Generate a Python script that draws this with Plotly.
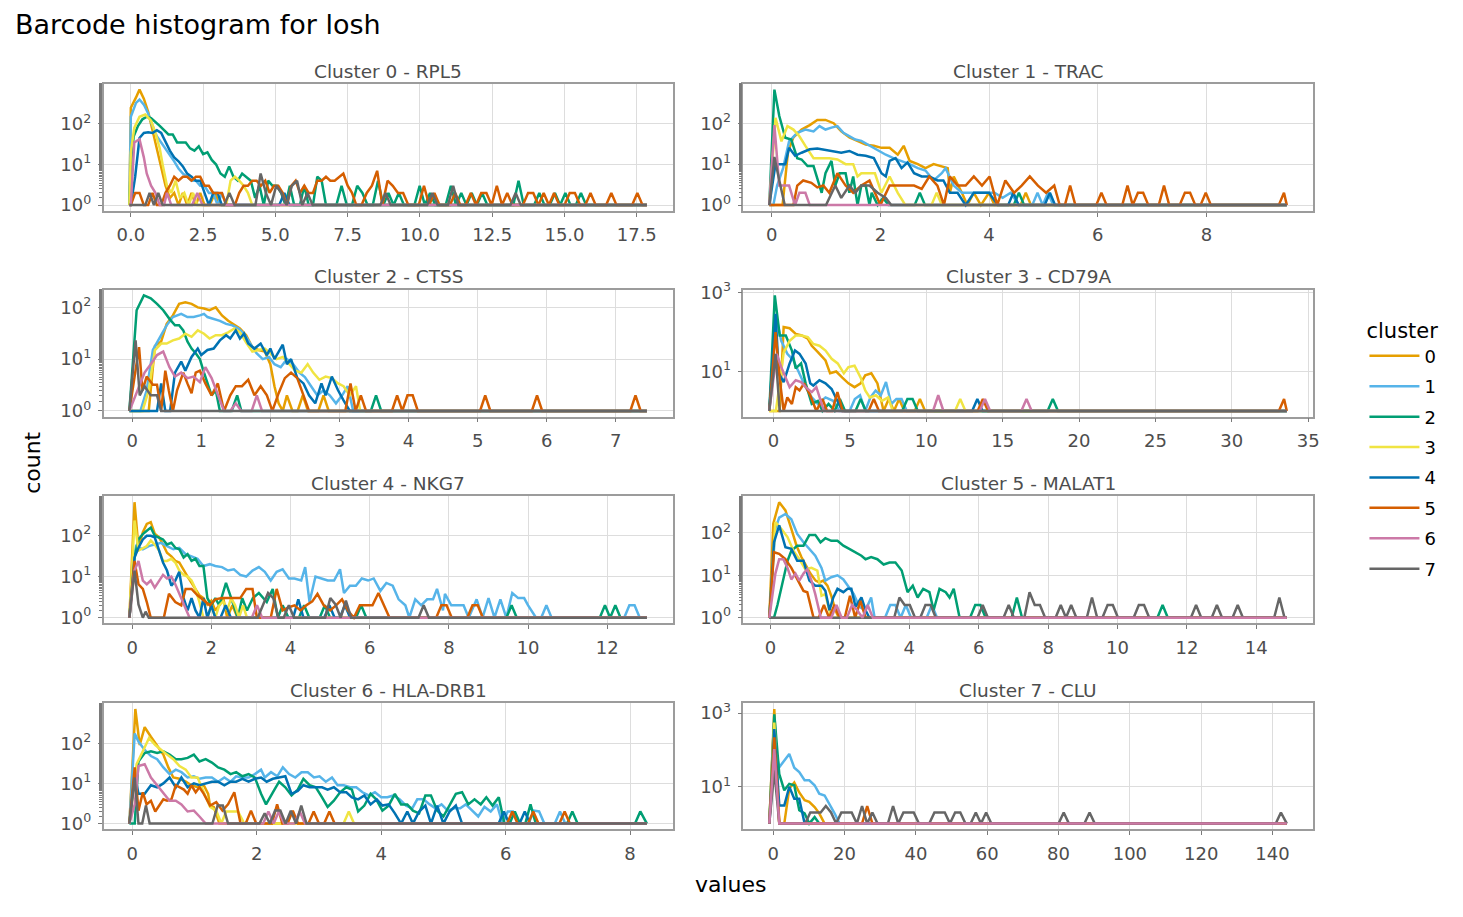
import numpy as np
import plotly.graph_objects as go

# ---------------- data ----------------
CLUSTERS = ["0", "1", "2", "3", "4", "5", "6", "7"]
CLUSTER_COLORS = ["#E69F00", "#56B4E9", "#009E73", "#F0E442",
                  "#0072B2", "#D55E00", "#CC79A7", "#666666"]

PANEL_TITLES = ["Cluster 0 - RPL5", "Cluster 1 - TRAC", "Cluster 2 - CTSS",
                "Cluster 3 - CD79A", "Cluster 4 - NKG7", "Cluster 5 - MALAT1",
                "Cluster 6 - HLA-DRB1", "Cluster 7 - CLU"]
X_LO = [-0.05, -0.044, -0.04, -0.28, -0.07, -0.035, -0.046, -1.1]
X_HI = [17.85, 9.48, 7.45, 33.6, 13.0, 14.88, 8.27, 144.0]
BIN_W = [0.18, 0.096, 0.075, 0.34, 0.131, 0.15, 0.084, 1.45]
X_TICKS = [[0, 2.5, 5, 7.5, 10, 12.5, 15, 17.5], [0, 2, 4, 6, 8],
           [0, 1, 2, 3, 4, 5, 6, 7], [0, 5, 10, 15, 20, 25, 30, 35],
           [0, 2, 4, 6, 8, 10, 12], [0, 2, 4, 6, 8, 10, 12, 14],
           [0, 2, 4, 6, 8], [0, 20, 40, 60, 80, 100, 120, 140]]
X_TICK_FMT = [".1f", "d", "d", "d", "d", "d", "d", "d"]
Y_TICKS = [[1, 10, 100], [1, 10, 100], [1, 10, 100], [10, 1000],
           [1, 10, 100], [1, 10, 100], [1, 10, 100], [10, 1000]]

# counts per cluster: body vertices (value, count) and isolated bins in the tail
rpl5_body = {
    0: [(0.0, 250), (0.18, 450), (0.3, 700), (0.45, 420), (0.6, 200), (0.75, 70), (0.9, 25), (1.05, 8), (1.2, 3),
        (1.35, 1.5), (1.5, 2), (1.65, 1), (1.8, 2), (1.95, 1), (2.1, 2), (2.25, 1), (2.4, 2), (2.55, 1)],
    1: [(0.0, 150), (0.18, 330), (0.3, 400), (0.45, 300), (0.6, 180), (0.75, 90), (0.9, 50), (1.05, 35), (1.2, 25),
        (1.35, 17), (1.5, 12), (1.65, 8), (1.8, 6), (1.95, 5), (2.1, 4), (2.25, 4), (2.4, 3), (2.55, 3), (2.7, 2),
        (2.85, 2), (3.0, 1), (3.15, 2), (3.3, 1)],
    2: [(0.0, 10), (0.1, 50), (0.25, 90), (0.4, 130), (0.55, 150), (0.7, 140), (0.85, 115), (1.0, 90), (1.15, 70),
        (1.3, 55), (1.45, 55), (1.6, 35), (1.75, 35), (1.9, 35), (2.05, 25), (2.2, 22), (2.35, 28), (2.5, 18),
        (2.65, 20), (2.8, 13), (2.95, 10), (3.1, 6), (3.25, 5), (3.4, 9), (3.55, 5), (3.7, 4), (3.85, 6), (4.0, 5),
        (4.15, 4), (4.3, 1.5), (4.45, 3), (4.6, 1), (4.75, 4), (4.9, 3), (5.05, 3), (5.2, 2), (5.35, 1), (5.5, 3),
        (5.65, 1), (5.85, 1), (6.0, 3), (6.15, 1), (6.3, 1), (6.45, 5), (6.6, 4), (6.75, 1)],
    3: [(0.0, 20), (0.12, 80), (0.3, 150), (0.5, 170), (0.7, 120), (0.85, 60), (1.0, 25), (1.1, 10), (1.25, 3),
        (1.4, 2), (1.55, 4), (1.7, 1.5), (1.85, 2), (2.0, 1), (2.15, 2), (2.3, 1), (3.3, 1), (3.45, 4), (3.6, 5),
        (3.75, 4), (3.9, 3), (4.05, 2), (4.2, 1)],
    4: [(0.0, 1), (0.15, 5), (0.3, 45), (0.45, 60), (0.6, 62), (0.75, 60), (0.9, 70), (1.05, 60), (1.2, 35),
        (1.35, 22), (1.5, 15), (1.65, 12), (1.8, 9), (1.95, 6), (2.1, 5), (2.25, 4), (2.4, 4), (2.55, 2), (2.7, 1),
        (2.85, 2), (3.0, 2), (3.15, 1)],
    5: [(0.0, 1), (0.15, 2), (0.3, 2), (0.45, 1), (0.6, 1), (0.75, 2), (0.9, 1), (1.05, 1), (1.2, 2), (1.35, 3),
        (1.5, 5), (1.65, 4), (1.8, 5), (1.95, 5), (2.1, 4), (2.25, 5), (2.4, 5), (2.55, 3), (2.7, 3), (2.85, 2),
        (3.0, 2), (3.15, 2), (3.3, 1), (3.6, 1), (3.75, 2), (3.9, 3), (4.05, 3), (4.2, 4), (4.35, 4), (4.5, 3),
        (4.65, 4), (4.8, 2), (4.95, 3), (5.1, 3), (5.25, 2), (5.4, 1), (5.55, 3), (5.7, 4), (5.85, 2), (6.0, 3),
        (6.15, 2), (6.3, 2), (6.45, 4), (6.6, 4), (6.75, 5), (6.9, 4), (7.05, 4), (7.2, 5), (7.35, 6), (7.5, 3),
        (7.65, 2), (7.8, 1)],
    6: [(0.0, 1), (0.12, 35), (0.3, 42), (0.45, 15), (0.55, 6), (0.7, 3), (0.85, 2), (1.0, 1), (1.15, 1), (1.25, 2),
        (1.4, 1)],
    7: [(0.0, 1), (0.5, 1), (0.65, 2), (0.8, 1), (0.95, 2), (1.1, 1), (1.25, 1)],
}
rpl5_spikes = {
    0: [(2.9, 2)], 1: [],
    2: [(7.2, 3), (7.9, 3), (8.1, 2), (8.5, 4), (8.9, 2), (9.3, 2), (10.0, 3), (10.3, 2), (11.1, 3), (11.5, 2),
        (11.8, 2), (12.1, 2), (13.4, 4), (14.2, 2), (14.6, 2), (15.0, 2), (15.5, 2)],
    3: [], 4: [(5.3, 2)],
    5: [(8.2, 2), (8.4, 3), (8.6, 7), (8.8, 4), (9.0, 3), (9.2, 2), (9.4, 2), (10.2, 3), (10.5, 2), (11.3, 2),
        (11.7, 2), (12.1, 2), (12.3, 2), (12.7, 3), (13.1, 2), (13.7, 2), (14.0, 2), (14.3, 2), (14.7, 2), (15.2, 2),
        (15.4, 2), (15.9, 2), (16.6, 2), (17.6, 2)],
    6: [(2.35, 2)],
    7: [(3.35, 2), (4.4, 2), (4.55, 6), (4.75, 2), (4.95, 3), (5.15, 2), (5.5, 3), (5.7, 4), (6.1, 2), (8.8, 2),
        (10.4, 2), (11.1, 3), (13.4, 2)],
}

trac_body = {
    0: [(0.2, 1), (0.3, 20), (0.4, 45), (0.55, 70), (0.7, 90), (0.84, 120), (0.99, 120), (1.14, 100), (1.28, 63),
        (1.43, 45), (1.58, 37), (1.73, 30), (1.88, 28), (2.02, 25), (2.17, 25), (2.32, 17), (2.43, 28), (2.54, 12),
        (2.69, 10), (2.83, 8), (2.98, 10), (3.13, 9), (3.24, 8), (3.28, 2), (3.35, 5), (3.5, 2), (3.6, 1), (3.72, 2),
        (3.85, 1), (4.0, 2), (4.1, 1)],
    1: [(0.03, 1), (0.1, 3), (0.21, 8), (0.32, 36), (0.47, 58), (0.62, 70), (0.77, 63), (0.88, 85), (0.99, 70),
        (1.1, 78), (1.21, 85), (1.32, 58), (1.43, 48), (1.54, 40), (1.65, 37), (1.77, 30), (1.88, 25), (1.99, 21),
        (2.1, 17), (2.24, 14), (2.39, 12), (2.54, 10), (2.69, 8), (2.83, 7), (2.98, 4), (3.13, 6), (3.2, 8),
        (3.35, 3), (3.5, 2), (3.65, 2), (3.8, 2), (3.95, 2), (4.1, 2), (4.25, 1.5), (4.4, 2), (4.55, 1), (4.7, 1)],
    2: [(0.05, 660), (0.14, 150), (0.25, 44), (0.36, 40), (0.47, 14), (0.55, 13), (0.66, 9), (0.77, 9), (0.92, 2),
        (0.99, 6), (1.1, 12), (1.17, 3), (1.25, 6), (1.36, 6), (1.43, 2), (1.5, 5), (1.58, 1), (1.65, 3), (1.73, 3),
        (1.8, 1), (1.84, 2), (1.95, 1), (2.05, 1.5), (2.15, 1)],
    3: [(0.07, 135), (0.18, 36), (0.29, 85), (0.4, 70), (0.51, 48), (0.62, 28), (0.77, 14), (0.92, 14), (1.06, 14),
        (1.21, 13), (1.36, 10), (1.5, 10), (1.58, 5), (1.65, 6), (1.8, 6), (1.9, 6), (2.02, 2), (2.17, 5), (2.32, 2),
        (2.46, 1)],
    4: [(0.07, 10), (0.14, 10), (0.25, 10), (0.32, 25), (0.43, 16), (0.55, 19), (0.7, 23), (0.84, 24), (0.99, 22),
        (1.14, 21), (1.28, 19), (1.43, 21), (1.58, 17), (1.73, 16), (1.88, 14), (2.02, 6), (2.1, 5), (2.17, 12),
        (2.28, 14), (2.39, 8), (2.5, 11), (2.62, 6), (2.76, 5), (2.9, 5), (3.05, 4), (3.16, 4), (3.28, 2), (3.42, 2),
        (3.57, 1), (3.72, 2), (3.87, 2), (4.0, 2), (4.16, 1)],
    5: [(0.4, 1), (0.47, 3), (0.58, 4), (0.73, 3.5), (0.84, 2.7), (0.95, 3), (1.06, 2), (1.21, 6), (1.36, 3),
        (1.5, 2), (1.65, 3), (1.8, 4), (2.0, 1), (2.17, 3), (2.32, 3), (2.46, 3), (2.62, 3), (2.76, 2.5), (2.9, 5),
        (3.05, 3), (3.17, 1), (3.28, 5), (3.42, 3), (3.57, 3), (3.72, 5), (3.87, 3), (4.01, 5), (4.15, 1), (4.3, 4),
        (4.46, 2), (4.6, 3), (4.75, 5), (4.9, 3), (5.05, 2), (5.2, 3), (5.3, 1)],
    6: [(0.05, 90), (0.14, 3), (0.32, 3), (0.43, 1), (0.51, 2), (0.62, 2), (0.7, 1)],
    7: [(0.05, 15), (0.14, 4), (0.24, 1), (1.0, 1), (1.17, 3), (1.28, 1.5), (1.43, 3), (1.54, 2), (1.65, 3),
        (1.8, 3), (1.95, 2), (2.1, 1.5), (2.2, 1)],
}
trac_spikes = {
    0: [(4.68, 2)], 1: [(4.9, 2), (5.1, 2)], 2: [(2.76, 2), (4.55, 2)], 3: [(3.05, 2)],
    4: [(4.46, 2), (5.1, 2)],
    5: [(5.5, 3), (6.1, 2), (6.55, 3), (6.7, 2), (6.8, 2), (7.2, 3), (7.6, 2), (7.7, 2), (8.0, 2), (9.4, 2)],
    6: [], 7: [],
}

ctss_body = {
    0: [(0.24, 1), (0.33, 18), (0.42, 22), (0.5, 48), (0.59, 70), (0.68, 117), (0.77, 125), (0.86, 117),
        (0.95, 100), (1.04, 95), (1.12, 88), (1.21, 100), (1.3, 70), (1.39, 55), (1.48, 45), (1.56, 39), (1.65, 29),
        (1.74, 17), (1.83, 15), (1.92, 14), (2.0, 8), (2.06, 3), (2.12, 1.4), (2.18, 1), (2.24, 2), (2.32, 1)],
    1: [(0.12, 1), (0.21, 2.5), (0.3, 15), (0.42, 29), (0.5, 45), (0.59, 65), (0.71, 75), (0.8, 65), (0.89, 65),
        (0.98, 70), (1.04, 75), (1.09, 65), (1.18, 60), (1.27, 55), (1.36, 48), (1.45, 45), (1.54, 39), (1.62, 31),
        (1.71, 20), (1.8, 13), (1.89, 10), (1.98, 11), (2.06, 8), (2.15, 7), (2.24, 10), (2.33, 8), (2.42, 5.5),
        (2.5, 4.5), (2.59, 3), (2.68, 2), (2.77, 2.5), (2.86, 2), (2.95, 1.4), (3.04, 2), (3.12, 3), (3.2, 1)],
    2: [(0.065, 88), (0.17, 170), (0.27, 150), (0.36, 117), (0.45, 88), (0.54, 60), (0.62, 45), (0.68, 45),
        (0.74, 36), (0.8, 22), (0.86, 16), (0.92, 13), (0.98, 10), (1.04, 5.5), (1.09, 3.4), (1.15, 2), (1.21, 2.5),
        (1.27, 1), (1.44, 1), (1.52, 2), (1.58, 1)],
    3: [(0.15, 1), (0.24, 2.5), (0.33, 15), (0.42, 20), (0.5, 20), (0.59, 23), (0.68, 25), (0.77, 31), (0.86, 27),
        (0.95, 36), (1.04, 31), (1.12, 25), (1.21, 29), (1.3, 29), (1.39, 33), (1.48, 39), (1.56, 33), (1.65, 21),
        (1.74, 14), (1.83, 15), (1.92, 16), (2.0, 13), (2.09, 10), (2.18, 11), (2.27, 8), (2.36, 6), (2.45, 5.5),
        (2.54, 8), (2.62, 5.5), (2.71, 4), (2.8, 4.6), (2.89, 4.3), (2.98, 3.4), (3.06, 3), (3.15, 2), (3.24, 3),
        (3.3, 1)],
    4: [(0.36, 1), (0.42, 3.4), (0.48, 1), (0.55, 1), (0.62, 5.5), (0.71, 9), (0.77, 6), (0.86, 11), (0.95, 16),
        (1.0, 12), (1.09, 15), (1.18, 16), (1.27, 23), (1.36, 29), (1.42, 25), (1.5, 36), (1.56, 25), (1.62, 31),
        (1.68, 20), (1.77, 16), (1.86, 20), (1.95, 12), (2.0, 16), (2.06, 10), (2.12, 14), (2.18, 19), (2.24, 8),
        (2.3, 10), (2.39, 4.3), (2.48, 3.4), (2.56, 2), (2.65, 1.4), (2.74, 3.4), (2.8, 2), (2.89, 4.6), (2.98, 2.5),
        (3.06, 1.6), (3.15, 1)],
    5: [(0.1, 17), (0.15, 2.5), (0.21, 4.6), (0.3, 3.2), (0.36, 3.2), (0.42, 1), (0.48, 6), (0.53, 2.5), (0.59, 1),
        (0.65, 2.5), (0.74, 5.5), (0.8, 3.4), (0.86, 2.2), (0.92, 5.5), (0.98, 6), (1.06, 3.4), (1.15, 2),
        (1.24, 3.4), (1.33, 1), (1.42, 2), (1.5, 3), (1.59, 3), (1.68, 4), (1.77, 2), (1.86, 3), (1.95, 2),
        (2.03, 1), (2.12, 2.2), (2.21, 4.3), (2.3, 5.5), (2.39, 4.3), (2.48, 2), (2.56, 1)],
    6: [(0.1, 3), (0.18, 5.5), (0.27, 8), (0.36, 12), (0.45, 14), (0.54, 7), (0.62, 4.6), (0.71, 5.5), (0.8, 4.3),
        (0.89, 4.6), (0.98, 3.6), (1.06, 7), (1.15, 4.3), (1.24, 2), (1.33, 1), (1.42, 1), (1.5, 1.4), (1.58, 1)],
    7: [(0.05, 23), (0.11, 2), (0.18, 3), (0.27, 2), (0.36, 2), (0.42, 1)],
}
ctss_spikes = {
    0: [(2.48, 2), (2.77, 2)], 1: [], 2: [(3.5, 2)], 3: [], 4: [],
    5: [(3.15, 3.4), (3.28, 2), (3.8, 2), (4.0, 2), (4.08, 2), (5.12, 2), (5.85, 2), (7.3, 2)],
    6: [(1.8, 2)], 7: [],
}

cd79a_body = {
    0: [(0.4, 1), (0.66, 135), (1.05, 125), (1.45, 90), (1.84, 82), (2.24, 68), (2.5, 45), (2.9, 31), (3.4, 19),
        (3.7, 9), (4.1, 10), (4.5, 7), (4.9, 5), (5.3, 4), (5.7, 5), (6.0, 8), (6.4, 9), (6.8, 5), (7.0, 2),
        (7.2, 1)],
    1: [(0.18, 240), (0.5, 60), (0.9, 28), (1.3, 19), (1.7, 9), (2.1, 4), (2.5, 2.2), (2.9, 1.5), (3.4, 2.2),
        (3.9, 1.8), (4.3, 1)],
    2: [(0.08, 850), (0.4, 82), (0.8, 82), (1.2, 34), (1.45, 12), (1.8, 16), (2.1, 5), (2.5, 1.5), (2.9, 1.8),
        (3.2, 1), (3.6, 1.5), (4.0, 1)],
    3: [(0.15, 1), (0.4, 5), (0.66, 30), (1.05, 60), (1.45, 82), (1.84, 82), (2.24, 75), (2.6, 50), (3.0, 45),
        (3.4, 34), (3.8, 21), (4.2, 16), (4.6, 9), (4.9, 13), (5.3, 14), (5.7, 7), (6.0, 3.3), (6.3, 2.2),
        (6.7, 2.5), (7.1, 1.8), (7.5, 2.2), (7.8, 1)],
    4: [(0.13, 290), (0.34, 9), (0.66, 5.4), (1.05, 16), (1.4, 34), (1.7, 28), (2.1, 16), (2.4, 5), (2.6, 4.4),
        (3.0, 6), (3.4, 5), (3.8, 3.6), (4.2, 1.8), (4.5, 1)],
    5: [(0.13, 100), (0.4, 6.5), (0.66, 1), (0.9, 2.2), (1.2, 1.5), (1.45, 4), (1.7, 3.3), (2.0, 5), (2.4, 2.5),
        (2.8, 1), (3.2, 2), (3.5, 1)],
    6: [(0.2, 28), (0.5, 13), (0.8, 7), (1.05, 4), (1.45, 6), (1.8, 5.4), (2.1, 4), (2.5, 3), (2.8, 4), (3.0, 2.2),
        (3.3, 1)],
    7: [(0.13, 28), (0.4, 1)],
}
cd79a_spikes = {
    0: [(7.6, 2), (8.1, 2), (9.5, 2)],
    1: [(5.4, 2), (5.7, 2.5), (6.2, 2.2), (6.6, 3.3), (7.0, 2.5), (7.4, 5.4), (7.7, 1.5), (8.0, 2), (8.4, 2)],
    2: [(4.3, 2), (5.8, 2), (8.8, 2), (9.2, 2), (18.2, 2)],
    3: [(12.2, 2)], 4: [(13.2, 2)], 5: [(4.1, 3), (6.6, 2), (13.6, 2), (33.3, 2)],
    6: [(10.9, 2.5), (13.9, 2), (16.5, 2)], 7: [],
}

nkg7_body = {
    0: [(0.06, 640), (0.16, 50), (0.27, 120), (0.37, 190), (0.47, 210), (0.57, 110), (0.68, 90), (0.78, 60),
        (0.88, 38), (0.99, 31), (1.09, 24), (1.19, 22), (1.3, 14), (1.4, 10), (1.5, 7), (1.6, 5), (1.7, 3.5),
        (1.8, 3), (1.9, 2.1), (2.0, 2.6), (2.1, 1.5), (2.2, 2), (2.3, 3), (2.4, 1)],
    1: [(0.03, 24), (0.1, 55), (0.27, 46), (0.42, 55), (0.57, 60), (0.73, 66), (0.88, 55), (1.04, 46), (1.19, 50),
        (1.35, 35), (1.5, 31), (1.65, 27), (1.8, 18), (1.96, 20), (2.1, 18), (2.27, 17), (2.42, 14), (2.57, 15),
        (2.73, 11), (2.88, 10), (3.04, 14), (3.2, 17), (3.35, 13), (3.5, 8), (3.65, 13), (3.8, 15), (3.96, 9),
        (4.1, 9), (4.27, 8), (4.37, 17), (4.48, 2.4), (4.63, 10), (4.78, 9), (4.94, 8), (5.1, 8), (5.25, 15),
        (5.35, 4), (5.5, 6), (5.65, 6), (5.8, 9), (5.96, 8), (6.1, 9), (6.27, 4.5), (6.42, 7), (6.58, 6),
        (6.73, 2.8), (6.9, 2), (7.0, 1), (7.15, 2.8), (7.3, 2), (7.45, 2.8), (7.6, 2.8), (7.7, 5), (7.85, 1.5),
        (7.9, 3.8), (8.06, 2), (8.2, 2), (8.37, 2), (8.5, 1), (8.7, 2.8), (8.85, 1), (9.0, 3), (9.15, 1),
        (9.3, 2.8), (9.45, 1), (9.6, 4), (9.75, 3), (9.9, 3), (10.0, 2), (10.2, 1)],
    2: [(0.06, 29), (0.16, 80), (0.27, 108), (0.37, 130), (0.47, 155), (0.57, 98), (0.68, 90), (0.78, 80),
        (0.88, 60), (0.99, 66), (1.09, 50), (1.19, 46), (1.3, 29), (1.4, 35), (1.5, 24), (1.6, 27), (1.7, 18),
        (1.8, 18), (1.9, 3), (2.0, 2), (2.1, 3), (2.2, 2), (2.37, 7), (2.47, 3.8), (2.57, 2), (2.67, 1), (2.78, 3),
        (2.9, 1.5), (3.05, 3), (3.2, 4), (3.4, 2.4), (3.55, 5), (3.68, 1), (3.8, 2), (3.95, 1)],
    3: [(0.06, 230), (0.16, 43), (0.27, 50), (0.37, 55), (0.47, 75), (0.57, 60), (0.68, 43), (0.78, 24),
        (0.88, 24), (0.99, 27), (1.09, 22), (1.19, 14), (1.3, 11), (1.4, 10), (1.5, 8), (1.6, 5), (1.7, 2.4),
        (1.8, 1), (1.9, 1), (2.0, 2), (2.1, 1), (2.2, 2), (2.3, 2.5), (2.4, 1.5), (2.5, 3), (2.6, 2), (2.7, 1),
        (2.8, 2), (2.9, 1), (3.0, 1)],
    4: [(0.06, 29), (0.16, 50), (0.27, 80), (0.37, 98), (0.47, 98), (0.57, 90), (0.68, 43), (0.78, 22),
        (0.88, 14), (0.99, 6), (1.09, 8), (1.19, 13), (1.3, 3), (1.4, 1.5), (1.5, 3), (1.6, 1.5), (1.7, 1),
        (1.8, 3), (1.9, 1), (2.0, 2), (2.1, 1)],
    5: [(0.06, 24), (0.16, 6.5), (0.27, 5), (0.37, 2.4), (0.47, 1), (0.8, 1), (0.93, 3.8), (1.09, 2.4), (1.24, 2),
        (1.35, 5), (1.5, 5), (1.65, 3.5), (1.8, 2.6), (1.96, 2), (2.1, 2.8), (2.27, 3), (2.42, 3), (2.57, 3),
        (2.73, 3), (2.88, 5), (3.04, 5), (3.15, 1), (3.5, 1), (3.65, 5), (3.8, 1.5), (3.96, 1.8), (4.1, 2),
        (4.25, 1.5), (4.4, 2), (4.55, 2.5), (4.68, 3.8), (4.84, 2), (5.0, 1.5), (5.15, 2), (5.3, 2.8), (5.45, 1.5),
        (5.6, 1), (5.75, 2), (5.9, 2), (6.07, 2), (6.22, 4), (6.37, 2), (6.5, 1)],
    6: [(0.06, 14), (0.16, 24), (0.27, 8), (0.37, 6.5), (0.47, 8), (0.57, 5.4), (0.68, 8), (0.78, 11), (0.88, 9),
        (0.99, 10), (1.09, 6.5), (1.19, 3.8), (1.3, 2.1), (1.45, 1)],
    7: [(0.06, 14), (0.16, 2.1), (0.27, 1), (0.34, 1.4), (0.42, 1)],
}
nkg7_spikes = {
    0: [(2.55, 2)], 1: [(10.5, 2), (12.6, 2), (12.75, 2)],
    2: [(4.3, 2), (4.9, 2), (5.8, 2), (9.6, 2), (11.9, 2), (12.2, 2)], 3: [],
    4: [(2.37, 2), (4.2, 2.8), (5.0, 2), (5.4, 2)],
    5: [(7.8, 2), (7.93, 2), (8.55, 2), (8.7, 2)], 6: [(3.15, 2)],
    7: [(3.3, 2), (3.42, 4), (3.55, 3), (4.0, 2), (5.04, 3), (5.2, 2.1), (5.35, 2.6), (7.3, 2)],
}

malat1_body = {
    0: [(0.08, 165), (0.25, 530), (0.43, 340), (0.6, 125), (0.75, 50), (0.89, 27), (1.0, 18), (1.15, 11),
        (1.3, 7.5), (1.41, 6.8), (1.52, 7.5), (1.64, 5.7), (1.75, 3.3), (1.87, 1.5), (1.97, 1)],
    1: [(0.14, 125), (0.25, 230), (0.43, 280), (0.6, 210), (0.77, 95), (0.95, 60), (1.12, 42), (1.29, 29),
        (1.47, 15), (1.58, 7.5), (1.75, 9), (1.93, 10), (2.1, 8), (2.22, 5.7), (2.4, 3.6), (2.56, 1.8), (2.74, 1.5),
        (2.9, 3), (3.0, 1)],
    2: [(0.1, 1), (0.2, 2), (0.37, 7.5), (0.49, 22), (0.6, 38), (0.77, 50), (0.95, 50), (1.12, 90), (1.29, 90),
        (1.44, 60), (1.58, 75), (1.75, 65), (1.93, 65), (2.1, 50), (2.27, 42), (2.45, 35), (2.62, 29), (2.74, 24),
        (2.9, 27), (3.08, 24), (3.26, 18), (3.43, 20), (3.6, 20), (3.78, 13), (3.95, 4), (4.1, 5.7), (4.24, 3),
        (4.4, 4.8), (4.58, 4), (4.7, 1.5), (4.87, 4.8), (5.05, 4), (5.16, 3), (5.28, 4.8), (5.45, 1)],
    3: [(0.14, 180), (0.31, 125), (0.49, 80), (0.66, 38), (0.83, 24), (1.0, 14), (1.18, 15), (1.35, 13),
        (1.47, 3.3), (1.58, 3.6), (1.75, 1)],
    4: [(0.1, 60), (0.25, 150), (0.43, 46), (0.6, 42), (0.77, 22), (0.95, 22), (1.12, 7.5), (1.29, 5.7),
        (1.47, 5.7), (1.58, 4.3), (1.7, 1.5), (1.81, 3), (1.93, 4.8), (2.1, 4), (2.22, 4.8), (2.33, 4.8),
        (2.45, 1.8), (2.62, 3), (2.74, 1.5), (2.85, 1)],
    5: [(0.1, 35), (0.25, 32), (0.43, 24), (0.6, 15), (0.77, 8), (0.95, 4.3), (1.06, 4), (1.24, 1)],
    6: [(0.14, 11), (0.25, 24), (0.37, 24), (0.49, 15), (0.6, 8), (0.72, 11), (0.83, 7.5), (0.95, 11), (1.06, 14),
        (1.18, 7.5), (1.29, 3.6), (1.45, 1)],
    7: [],
}
malat1_spikes = {
    0: [], 1: [(3.5, 2), (3.66, 2), (3.83, 2), (4.6, 2)], 2: [(5.9, 2), (6.05, 2), (7.12, 3), (11.3, 2)],
    3: [], 4: [], 5: [(1.56, 2), (1.87, 2), (2.28, 3.3), (2.62, 2.5)],
    6: [(1.87, 2), (2.4, 2), (2.56, 1.5), (2.74, 2)],
    7: [(3.78, 3), (3.93, 2), (4.08, 2), (4.45, 2), (4.6, 2), (6.15, 2), (6.85, 2), (7.47, 4), (7.62, 2),
        (7.77, 2), (8.35, 2), (8.7, 2), (9.27, 3), (9.66, 2), (9.81, 2), (10.6, 2), (10.75, 2), (12.2, 2),
        (12.8, 2), (13.4, 2), (14.7, 3)],
}

hladrb1_body = {
    0: [(0.05, 710), (0.12, 90), (0.2, 250), (0.3, 145), (0.4, 90), (0.5, 52), (0.58, 25), (0.66, 14), (0.76, 13),
        (0.86, 11), (0.95, 9), (1.05, 8), (1.15, 9), (1.22, 5.5), (1.25, 2.8), (1.31, 2.6), (1.4, 1)],
    1: [(0.04, 175), (0.1, 110), (0.2, 68), (0.3, 48), (0.4, 40), (0.5, 25), (0.6, 17), (0.7, 22), (0.79, 19),
        (0.89, 14), (0.99, 15), (1.08, 13), (1.18, 14), (1.28, 14), (1.38, 11), (1.48, 14), (1.58, 11), (1.67, 15),
        (1.77, 14), (1.87, 14), (1.97, 17), (2.07, 22), (2.13, 14), (2.23, 19), (2.33, 15), (2.42, 25), (2.52, 17),
        (2.62, 14), (2.72, 19), (2.82, 19), (2.92, 14), (3.01, 15), (3.11, 11), (3.21, 14), (3.3, 9), (3.4, 9),
        (3.5, 8), (3.6, 8), (3.7, 6), (3.8, 5), (3.9, 6), (4.0, 4.5), (4.1, 4.5), (4.2, 5), (4.3, 4), (4.4, 2.8),
        (4.5, 2.4), (4.58, 4), (4.68, 4), (4.78, 3), (4.87, 2.4), (4.97, 3), (5.07, 2.1), (5.17, 2.4), (5.27, 2.4),
        (5.36, 3), (5.46, 2.1), (5.56, 1.5), (5.66, 2.6), (5.76, 2), (5.86, 3), (5.95, 1)],
    2: [(0.04, 1), (0.1, 35), (0.2, 57), (0.3, 63), (0.4, 57), (0.5, 63), (0.6, 52), (0.7, 40), (0.79, 40),
        (0.89, 43), (0.99, 52), (1.08, 35), (1.18, 40), (1.28, 33), (1.38, 25), (1.48, 22), (1.58, 17), (1.67, 19),
        (1.77, 15), (1.87, 17), (1.97, 14), (2.07, 5.5), (2.15, 3), (2.26, 6), (2.36, 11), (2.46, 8), (2.56, 5),
        (2.66, 7), (2.75, 13), (2.85, 9), (2.95, 8), (3.05, 4.5), (3.14, 2.6), (3.24, 3.7), (3.34, 6), (3.44, 8),
        (3.53, 7), (3.63, 2), (3.73, 2.8), (3.83, 5.5), (3.92, 4), (4.02, 2.1), (4.12, 2.8), (4.22, 5.5), (4.32, 3),
        (4.42, 3), (4.51, 2.1), (4.61, 1.8), (4.71, 5), (4.8, 5), (4.9, 2.1), (5.0, 1.5), (5.1, 2.8), (5.2, 5.5),
        (5.3, 6), (5.4, 3), (5.5, 4), (5.6, 3), (5.69, 4.5), (5.79, 2.8), (5.89, 4.5), (5.98, 1)],
    3: [(0.07, 30), (0.17, 63), (0.27, 135), (0.37, 90), (0.46, 68), (0.56, 52), (0.66, 40), (0.76, 27),
        (0.86, 22), (0.95, 14), (1.05, 14), (1.15, 6), (1.25, 2.6), (1.35, 2.1), (1.43, 1), (1.51, 2), (1.61, 2),
        (1.7, 2), (1.8, 1)],
    4: [(0.04, 17), (0.1, 5.5), (0.2, 5.5), (0.3, 9), (0.4, 8), (0.5, 10), (0.6, 14), (0.7, 8), (0.79, 14),
        (0.89, 8), (0.99, 10), (1.08, 9), (1.18, 10), (1.28, 11), (1.38, 11), (1.48, 9), (1.58, 11), (1.67, 11),
        (1.77, 13), (1.87, 11), (1.97, 13), (2.07, 14), (2.16, 11), (2.26, 13), (2.36, 14), (2.46, 15),
        (2.56, 5.5), (2.66, 6.5), (2.75, 9), (2.85, 8), (2.95, 8), (3.05, 8), (3.14, 7), (3.24, 8), (3.34, 6),
        (3.44, 6), (3.53, 4.5), (3.63, 4), (3.73, 5), (3.83, 3), (3.93, 4), (4.02, 2.8), (4.12, 3), (4.22, 1.8),
        (4.32, 1), (4.42, 2), (4.51, 1), (4.61, 2), (4.71, 2.8), (4.8, 1), (4.9, 2.8), (5.0, 1), (5.1, 2),
        (5.2, 2.8), (5.3, 1)],
    5: [(0.04, 25), (0.1, 2.1), (0.17, 6), (0.23, 3), (0.3, 3.7), (0.37, 2), (0.43, 2.8), (0.5, 4), (0.56, 3.7),
        (0.63, 4), (0.7, 9), (0.76, 8), (0.83, 7), (0.89, 5.5), (0.95, 9), (1.02, 6), (1.08, 8), (1.15, 5.5),
        (1.25, 2.8), (1.35, 3.4), (1.45, 2.1), (1.54, 3), (1.64, 6), (1.74, 1)],
    6: [(0.04, 3), (0.1, 27), (0.2, 30), (0.3, 14), (0.4, 9), (0.5, 6), (0.6, 3.7), (0.7, 3.7), (0.79, 3),
        (0.89, 2), (0.99, 2.1), (1.08, 1.5), (1.18, 1)],
    7: [(0.04, 14), (0.1, 1), (0.16, 1), (0.22, 2.8), (0.28, 1)],
}
hladrb1_spikes = {
    0: [], 1: [(6.05, 2), (6.15, 2), (6.44, 2.1), (6.54, 2), (6.84, 2)],
    2: [(6.15, 2), (6.44, 3), (7.06, 2), (8.16, 2)], 3: [(3.5, 2)], 4: [(5.98, 2), (6.28, 2)],
    5: [(1.94, 2.1), (2.3, 3), (2.56, 2.1), (2.88, 2), (3.14, 2), (6.08, 2), (6.44, 2), (6.93, 2)],
    6: [(2.16, 2), (2.33, 2), (2.69, 2)],
    7: [(1.38, 2.8), (1.48, 2.8), (2.16, 1.8), (2.26, 2.1), (2.36, 2.1), (2.56, 2.1), (2.75, 2.8)],
}

clu_body = {
    0: [(0.3, 1300), (1.7, 1), (3.1, 1), (4.5, 9), (5.9, 13), (7.3, 7), (8.8, 4.3), (10.1, 3.9), (11.6, 2.8),
        (12.9, 1.9), (14.4, 1)],
    1: [(0.6, 105), (1.7, 34), (3.1, 51), (4.5, 78), (5.9, 33), (7.3, 25), (8.8, 15), (10.1, 15), (11.6, 11),
        (12.9, 6.5), (14.4, 5.8), (15.7, 3.5), (17.2, 1.9), (18.6, 1)],
    2: [(0.3, 930), (1.7, 22), (3.1, 8), (4.5, 12), (5.9, 11), (7.3, 2.3), (8.8, 1.9), (10.1, 1), (11.6, 1.5),
        (12.9, 1)],
    3: [(0.3, 560), (1.7, 1)],
    4: [(0.3, 370), (1.7, 3.1), (3.1, 3.1), (4.5, 10), (5.9, 4.7), (7.3, 4.7), (8.8, 1)],
    5: [(0.3, 220), (1.7, 1)],
    6: [(0.3, 105), (1.7, 1)],
    7: [(0.3, 28), (1.7, 1)],
}
clu_spikes = {
    0: [], 1: [], 2: [], 3: [], 4: [], 5: [(26.2, 3)], 6: [],
    7: [(10.1, 2), (11.6, 2), (12.9, 2), (14.4, 3), (15.7, 2), (18.6, 2), (20.0, 2), (21.4, 2), (24.7, 3),
        (27.5, 2), (33.1, 3), (37.1, 2), (38.6, 2), (40.0, 2), (45.0, 2), (46.4, 2), (47.9, 2), (50.7, 2),
        (52.2, 2), (56.5, 2), (59.4, 2), (82.0, 2), (89.2, 2), (142.1, 2)],
}

PANEL_BODIES = [rpl5_body, trac_body, ctss_body, cd79a_body, nkg7_body, malat1_body, hladrb1_body, clu_body]
PANEL_SPIKES = [rpl5_spikes, trac_spikes, ctss_spikes, cd79a_spikes, nkg7_spikes, malat1_spikes,
                hladrb1_spikes, clu_spikes]
DRAW_ORDER = [[0, 1, 2, 3, 4, 5, 6, 7]] * 5 + [[0, 1, 2, 3, 4, 5, 7, 6]] + [[0, 1, 2, 3, 4, 5, 6, 7]] + \
             [[0, 1, 2, 3, 4, 5, 7, 6]]


def build_series(body, spikes, lo, hi, bw):
    xs, ys = [lo], [1.0]
    for x, y in body:
        xs.append(x)
        ys.append(y)
    start = (body[-1][0] if body else lo) + bw
    grid = list(np.arange(start, hi - 0.3 * bw, bw))
    tail = [1.0] * len(grid)
    for sx, sc in spikes:
        i = int(round((sx - start) / bw))
        if 0 <= i < len(grid):
            tail[i] = max(tail[i], sc)
    xs += grid
    ys += tail
    xs.append(hi)
    ys.append(1.0)
    return xs, ys


# ---------------- layout geometry (pixels) ----------------
W, H = 1463, 917
COL_X = [(104, 676), (747, 1319)]
ROW_Y = [(75, 204), (284, 413), (494, 623), (704, 832)]

FONT = "DejaVu Sans"
GRID = "#DDDDDD"
BORDER = "#9C9C9C"
TICKC = "#7A7A7A"
LABC = "#4D4D4D"

fig = go.Figure()
layout = {}
annotations = []

for k in range(8):
    r, c = divmod(k, 2)
    xa = "x" if k == 0 else f"x{k + 1}"
    ya = "y" if k == 0 else f"y{k + 1}"
    lo, hi, bw = X_LO[k], X_HI[k], BIN_W[k]
    maxlog = 0.0
    for ci in DRAW_ORDER[k]:
        xs, ys = build_series(PANEL_BODIES[k][ci], PANEL_SPIKES[k][ci], lo, hi, bw)
        maxlog = max(maxlog, float(np.log10(max(ys))))
        fig.add_trace(go.Scatter(
            x=xs, y=ys, mode="lines", xaxis=xa, yaxis=ya,
            line=dict(color=CLUSTER_COLORS[ci], width=2.5),
            name=CLUSTERS[ci], legendgroup=CLUSTERS[ci], legendrank=ci + 1,
            showlegend=(k == 0), hoverinfo="skip"))
    span = hi - lo
    x0, x1 = COL_X[c]
    y0, y1 = ROW_Y[r]
    xdom = [x0 / W, x1 / W]
    ydom = [1 - y1 / H, 1 - y0 / H]
    xticks = X_TICKS[k]
    if X_TICK_FMT[k] == ".1f":
        xtext = [f"{v:.1f}" for v in xticks]
    else:
        xtext = [f"{int(v)}" for v in xticks]
    yticks = Y_TICKS[k]
    ytext = [f"10<sup>{int(round(np.log10(v)))}</sup>" for v in yticks]
    layout["xaxis" if k == 0 else f"xaxis{k + 1}"] = dict(
        domain=xdom, anchor=ya, range=[lo - 0.05 * span, hi + 0.05 * span],
        tickmode="array", tickvals=xticks, ticktext=xtext,
        showgrid=True, gridcolor=GRID, gridwidth=1, zeroline=False,
        showline=True, linecolor=BORDER, linewidth=1.5, mirror=True,
        ticks="outside", ticklen=4, tickcolor=TICKC, ticklabelstandoff=3,
        tickfont=dict(family=FONT, size=18, color=LABC))
    ymin_log = -0.05 * maxlog
    ymax_log = 1.05 * maxlog
    yax = dict(
        domain=ydom, anchor=xa, type="log", range=[ymin_log, ymax_log],
        tickmode="array", tickvals=yticks, ticktext=ytext,
        showgrid=True, gridcolor=GRID, gridwidth=1, zeroline=False,
        showline=True, linecolor=BORDER, linewidth=1.5, mirror=True,
        ticks="outside", ticklen=4, tickcolor=TICKC, ticklabelstandoff=3,
        tickfont=dict(family=FONT, size=18, color=LABC))
    if yticks[0] == 1:
        yax["minor"] = dict(ticks="outside", ticklen=3, tickcolor=TICKC, showgrid=False)
    layout["yaxis" if k == 0 else f"yaxis{k + 1}"] = yax
    annotations.append(dict(
        text=PANEL_TITLES[k], xref="paper", yref="paper",
        x=(x0 + x1) / 2 / W, y=1 - (y0 - 13) / H, xanchor="center", yanchor="middle",
        showarrow=False, font=dict(family=FONT, size=18.5, color=LABC)))

annotations.append(dict(text="values", xref="paper", yref="paper", x=735 / W, y=1 - 888 / H,
                        xanchor="center", yanchor="middle", showarrow=False,
                        font=dict(family=FONT, size=22, color="black")))
annotations.append(dict(text="count", xref="paper", yref="paper", x=33 / W, y=1 - 460 / H,
                        xanchor="center", yanchor="middle", showarrow=False, textangle=-90,
                        font=dict(family=FONT, size=22, color="black")))

fig.update_layout(
    width=W, height=H, autosize=False,
    margin=dict(l=0, r=0, t=0, b=0),
    paper_bgcolor="white", plot_bgcolor="white",
    title=dict(text="Barcode histogram for losh", x=15 / W, xanchor="left", y=1 - 25 / H, yanchor="middle",
               font=dict(family=FONT, size=27, color="black")),
    legend=dict(x=1371 / W, xanchor="left", y=1 - 305 / H, yanchor="top",
                title=dict(text="cluster", font=dict(family=FONT, size=21, color="black")),
                font=dict(family=FONT, size=18, color="black"),
                tracegroupgap=4, bgcolor="rgba(0,0,0,0)", itemwidth=50),
    annotations=annotations,
    showlegend=True,
    **layout)

fig.write_html("out.html")
